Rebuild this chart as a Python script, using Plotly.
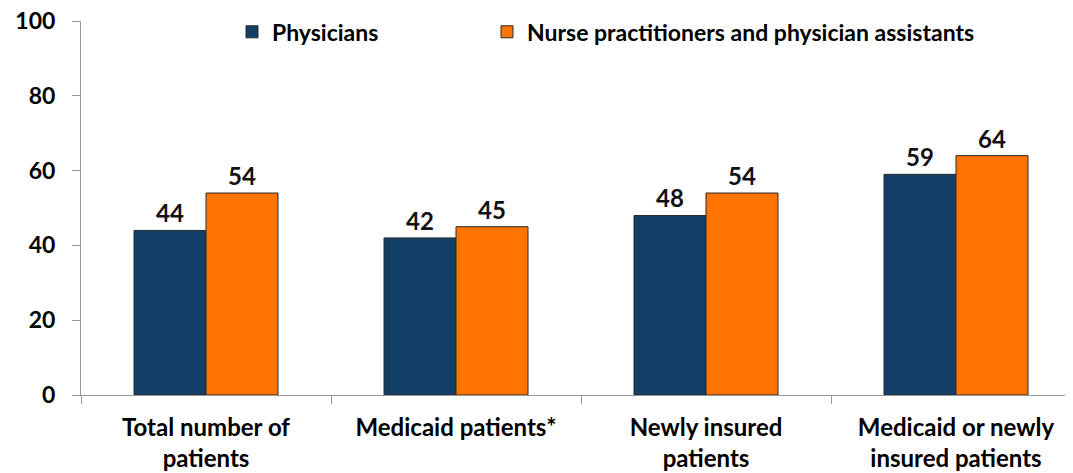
import plotly.graph_objects as go

categories = ["Total number of<br>patients", "Medicaid patients*", "Newly insured<br>patients", "Medicaid or newly<br>insured patients"]
physicians = [44, 42, 48, 59]
np_pa = [54, 45, 54, 64]
y_ticks = [0, 20, 40, 60, 80, 100]

font = "Lato, 'Open Sans', sans-serif"

fig = go.Figure()
fig.add_bar(x=categories, y=physicians, name="Physicians", legend="legend",
            marker=dict(color="#133F66", line=dict(color="#2a2a2a", width=1)),
            text=[str(v) for v in physicians], textposition="outside",
            textfont=dict(size=24, color="#111", weight="bold"), cliponaxis=False)
fig.add_bar(x=categories, y=np_pa, name="Nurse practitioners and physician assistants", legend="legend2",
            marker=dict(color="#FF7300", line=dict(color="#2a2a2a", width=1)),
            text=[str(v) for v in np_pa], textposition="outside",
            textfont=dict(size=24, color="#111", weight="bold"), cliponaxis=False)

legend_common = dict(orientation="h", y=0.971, xanchor="left", yanchor="middle",
                     font=dict(size=23, color="#000", weight="bold", family=font), itemwidth=30,
                     bgcolor="rgba(0,0,0,0)")

# page body has an 8px margin; offsets compensate so the plot area sits where the reference has it
fig.update_layout(
    width=1073, height=473,
    margin=dict(l=73, r=0, t=13, b=86, autoexpand=False),
    paper_bgcolor="white", plot_bgcolor="white",
    font=dict(family=font, color="#000"),
    barmode="group", bargap=0.424, bargroupgap=0,
    showlegend=True,
    legend=dict(x=0.151, **legend_common),
    legend2=dict(x=0.406, **legend_common),
)
fig.update_xaxes(range=[-0.5, 3.5], showline=True, linecolor="#999", linewidth=1,
                 ticks="outside", tickson="boundaries", ticklen=8, tickcolor="#999",
                 tickfont=dict(size=24, color="#000", family=font, weight="bold"),
                 showgrid=False, automargin=False, ticklabelstandoff=11,
                 ticklabeloverflow="allow")
fig.update_yaxes(range=[0, 100], tickvals=y_ticks, showline=True, linecolor="#999", linewidth=1,
                 ticks="outside", ticklen=8, tickcolor="#999",
                 tickfont=dict(size=23, color="#000", family=font, weight="bold"), showgrid=False,
                 zeroline=False, automargin=False, ticklabelstandoff=12,
                 ticklabeloverflow="allow")

fig.write_html("out.html")
